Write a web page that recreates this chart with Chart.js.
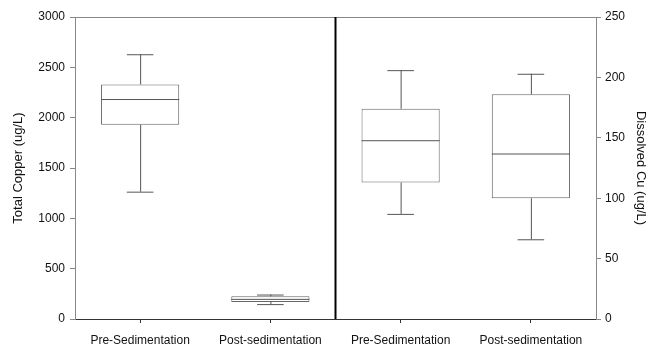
<!DOCTYPE html>
<html>
<head>
<meta charset="utf-8">
<script src="https://cdn.jsdelivr.net/npm/chart.js@4"></script>
<style>
  html, body { margin: 0; padding: 0; background: #fff; }
  #wrap { width: 648px; height: 350px; }
</style>
</head>
<body>
<div id="wrap"><canvas id="copperChart"></canvas></div>
<script>
// categories on the x axis (two for total copper, two for dissolved)
const categories = ["Pre-Sedimentation", "Post-sedimentation", "Pre-Sedimentation", "Post-sedimentation"];

// Total copper (left axis, ug/L)
const totalMin = [1265, 148];
const totalQ1 = [1930, 170];
const totalMed = [2185, 200];
const totalQ3 = [2330, 225];
const totalMax = [2630, 243];

// Dissolved Cu (right axis, ug/L)
const dissMin = [87, 66];
const dissQ1 = [113, 100];
const dissMed = [148, 137];
const dissQ3 = [174, 186];
const dissMax = [206, 203];

const leftTicks = [0, 500, 1000, 1500, 2000, 2500, 3000];
const rightTicks = [0, 50, 100, 150, 200, 250];

// boîtes = barres flottantes [q1, q3]
const totalBoxes = [[totalQ1[0], totalQ3[0]], [totalQ1[1], totalQ3[1]], null, null];
const dissBoxes = [null, null, [dissQ1[0], dissQ3[0]], [dissQ1[1], dissQ3[1]]];

// médianes, moustaches, ligne de séparation et bord du haut
const boxExtras = {
    id: "boxExtras",
    afterDatasetsDraw(chart) {
        const ctx = chart.ctx;
        const x = chart.scales.x;
        const area = chart.chartArea;
        ctx.save();
        ctx.lineWidth = 1;
        ctx.strokeStyle = "#555";

        function drawBox(idx, yScale, mn, med, q1, q3, mx) {
            const meta = chart.getDatasetMeta(yScale.id === "y" ? 0 : 1);
            const bar = meta.data[idx];
            const half = bar.width / 2;
            const cx = x.getPixelForValue(idx);
            const cap = bar.width * 0.17;
            // médiane
            ctx.beginPath();
            ctx.moveTo(cx - half, yScale.getPixelForValue(med) + 0.5);
            ctx.lineTo(cx + half, yScale.getPixelForValue(med) + 0.5);
            ctx.stroke();
            // moustaches
            ctx.beginPath();
            ctx.moveTo(cx + 0.5, yScale.getPixelForValue(q3));
            ctx.lineTo(cx + 0.5, yScale.getPixelForValue(mx));
            ctx.moveTo(cx + 0.5, yScale.getPixelForValue(q1));
            ctx.lineTo(cx + 0.5, yScale.getPixelForValue(mn));
            ctx.moveTo(cx - cap, yScale.getPixelForValue(mx) + 0.5);
            ctx.lineTo(cx + cap, yScale.getPixelForValue(mx) + 0.5);
            ctx.moveTo(cx - cap, yScale.getPixelForValue(mn) + 0.5);
            ctx.lineTo(cx + cap, yScale.getPixelForValue(mn) + 0.5);
            ctx.stroke();
        }

        for (let i = 0; i < 2; i++) {
            drawBox(i, chart.scales.y, totalMin[i], totalMed[i], totalQ1[i], totalQ3[i], totalMax[i]);
            drawBox(i + 2, chart.scales.y2, dissMin[i], dissMed[i], dissQ1[i], dissQ3[i], dissMax[i]);
        }

        // bord du haut
        ctx.strokeStyle = "#888";
        ctx.beginPath();
        ctx.moveTo(area.left, area.top + 0.5);
        ctx.lineTo(area.right, area.top + 0.5);
        ctx.stroke();

        // séparation entre les deux graphiques
        const sep = (x.getPixelForValue(1) + x.getPixelForValue(2)) / 2;
        ctx.strokeStyle = "#000";
        ctx.lineWidth = 2;
        ctx.beginPath();
        ctx.moveTo(sep, area.top);
        ctx.lineTo(sep, area.bottom);
        ctx.stroke();
        ctx.restore();
    },
};

const fontFam = "'Liberation Sans', Arial, sans-serif";

let copperCan = document.getElementById("copperChart").getContext("2d");
var copperChart = new Chart(copperCan, {
    type: "bar",
    data: {
        labels: categories,
        datasets: [{
            label: "Total Copper",
            data: totalBoxes,
            yAxisID: "y",
            backgroundColor: "#fff",
            borderColor: "#666",
            borderWidth: 1,
            borderSkipped: false,
        }, {
            label: "Dissolved Cu",
            data: dissBoxes,
            yAxisID: "y2",
            backgroundColor: "#fff",
            borderColor: "#666",
            borderWidth: 1,
            borderSkipped: false,
        }, ],
    },
    options: {
        responsive: true,
        maintainAspectRatio: false,
        animation: false,
        layout: {
            padding: { top: 17, right: 0, left: 0, bottom: 0 },
        },
        datasets: {
            bar: {
                grouped: false,
                barPercentage: 0.6,
                categoryPercentage: 1,
            },
        },
        scales: {
            x: {
                offset: true,
                grid: {
                    offset: false,
                    drawOnChartArea: false,
                    drawTicks: true,
                    tickLength: 4,
                    color: "#333",
                },
                border: { display: true, color: "#333" },
                ticks: {
                    color: "#111",
                    padding: 10,
                    maxRotation: 0,
                    font: { family: fontFam, size: 12 },
                },
                afterFit: (s) => { s.height = 31; },
            },
            y: {
                position: "left",
                min: 0,
                max: 3000,
                afterBuildTicks: (s) => { s.ticks = leftTicks.map(v => ({ value: v })); },
                grid: {
                    drawOnChartArea: false,
                    drawTicks: true,
                    tickLength: 5,
                    color: "#888",
                },
                border: { display: true, color: "#888" },
                ticks: {
                    color: "#111",
                    padding: 5,
                    callback: (v) => String(v),
                    font: { family: fontFam, size: 12 },
                },
                title: {
                    text: "Total Copper (ug/L)",
                    display: true,
                    align: "center",
                    color: "#111",
                    padding: { top: 11, bottom: 0 },
                    font: { family: fontFam, size: 13 },
                },
                afterFit: (s) => { s.width = 75; },
            },
            y2: {
                position: "right",
                min: 0,
                max: 250,
                afterBuildTicks: (s) => { s.ticks = rightTicks.map(v => ({ value: v })); },
                grid: {
                    drawOnChartArea: false,
                    drawTicks: true,
                    tickLength: 5,
                    color: "#888",
                },
                border: { display: true, color: "#888" },
                ticks: {
                    color: "#111",
                    padding: 4,
                    callback: (v) => String(v),
                    font: { family: fontFam, size: 12 },
                },
                title: {
                    text: "Dissolved Cu (ug/L)",
                    display: true,
                    align: "center",
                    color: "#111",
                    padding: { top: 0, bottom: 4 },
                    font: { family: fontFam, size: 13 },
                },
                afterFit: (s) => { s.width = 52; },
            },
        },
        plugins: {
            legend: { display: false },
            tooltip: { enabled: false },
        },
    },
    plugins: [boxExtras],
});
</script>
</body>
</html>
